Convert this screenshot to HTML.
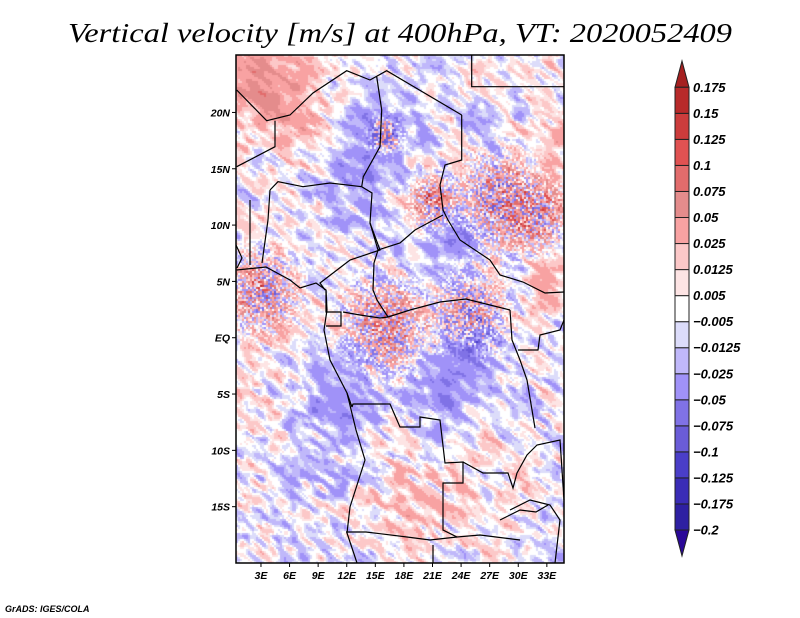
<!DOCTYPE html>
<html><head><meta charset="utf-8">
<style>
html,body{margin:0;padding:0;background:#fff;}
#wrap{position:relative;width:800px;height:618px;overflow:hidden;}
svg text{font-family:"Liberation Sans",sans-serif;font-style:italic;font-weight:bold;}
</style></head>
<body>
<div id="wrap">
<canvas id="field" width="328" height="508" style="position:absolute;left:236px;top:55px;"></canvas>
<svg id="svg" width="800" height="618" style="position:absolute;left:0;top:0;">
<text x="400" y="42" text-anchor="middle" textLength="664" lengthAdjust="spacingAndGlyphs" style="font-family:'Liberation Serif',serif;font-weight:normal;font-size:27px;">Vertical velocity [m/s] at 400hPa, VT: 2020052409</text>
<g id="borders" fill="none" stroke="#000" stroke-width="1.2"></g>
<rect x="236" y="55" width="328" height="508" fill="none" stroke="#000" stroke-width="1.5"/>
<g id="axes"></g>
<g id="cbar"></g>
<text x="5" y="612" style="font-size:9px">GrADS: IGES/COLA</text>
</svg>
</div>
<script>
// ---- data ----
const levels = [-0.2,-0.175,-0.125,-0.1,-0.075,-0.05,-0.025,-0.0125,-0.005,0.005,0.0125,0.025,0.05,0.075,0.1,0.125,0.15,0.175];
const colors = ["#2a0898","#2e20a2","#3a2cb6","#4a3ec8","#6a5cd8","#8072e6","#a092f8","#c0b8fa","#dcdcfa","#ffffff","#fde4e4","#fcc8c8","#f8a2a2","#e48c8c","#e26c6c","#e05252","#cc3c3c","#b82a2a","#a52020"];
const lonTicks = [3,6,9,12,15,18,21,24,27,30,33];
const latTicks = [20,15,10,5,0,-5,-10,-15];
// base anomaly blobs: lon, lat, radius(deg), value
const blobLon = [3,7,14,17,20,23,31,34,25,22,12,6,20,8,33,1,27,17];
const blobLat = [23,19,15,19,13,9,23,17,-1,-5,-5,-2,-12,-12,5,-8,-14,-17];
const blobRad = [5,3,4,3,3,4,4,3,3,4,4,4,6,5,2,4,4,3];
const blobVal = [0.05,0.03,-0.035,-0.03,0.025,-0.035,0.01,0.025,-0.05,-0.03,-0.03,0.005,0.015,-0.004,0.05,0.012,0.01,0.012];
// convective speckle regions: lon, lat, radius
const spkLon = [3,16,25,28,21,16,32];
const spkLat = [4,1,2,12,12,18,11];
const spkRad = [3,3.5,3,3.5,2,1.5,2.5];

// ---- axes mapping ----
const X0=236, X1=564, Y0=55, Y1=563;
const lonMin=0.38, lonMax=34.8, latMax=25.1, latMin=-20.0;
function xOf(lon){return X0+(lon-lonMin)/(lonMax-lonMin)*(X1-X0);}
function yOf(lat){return Y0+(latMax-lat)/(latMax-latMin)*(Y1-Y0);}

function hash(i,j){let h=(i*374761393+j*668265263)|0;h=(h^(h>>>13))*1274126177|0;h=h^(h>>>16);return ((h>>>0)%10000)/10000*2-1;}
function vnoise(x,y){const i=Math.floor(x),j=Math.floor(y),fx=x-i,fy=y-j;
 const sx=fx*fx*(3-2*fx),sy=fy*fy*(3-2*fy);
 const a=hash(i,j),b=hash(i+1,j),c=hash(i,j+1),d=hash(i+1,j+1);
 return a+(b-a)*sx+(c-a)*sy+(a-b-c+d)*sx*sy;}

function field(lon,lat){
 let v=-0.004;
 for(let k=0;k<blobLon.length;k++){const d2=((lon-blobLon[k])**2+(lat-blobLat[k])**2)/(blobRad[k]**2);v+=blobVal[k]*Math.exp(-d2);}
 const u=(lon*0.8-lat*0.5), w=(lon*0.5+lat*0.8);
 v+=0.028*vnoise(u*0.7,w*2.0)+0.014*vnoise(u*1.5,w*3.5+7);
 let s=0;
 for(let k=0;k<spkLon.length;k++){const d2=((lon-spkLon[k])**2+(lat-spkLat[k])**2)/(spkRad[k]**2);s+=Math.exp(-d2);}
 s=Math.min(1,s);
 if(s>0.05){v+=s*(0.035+0.03*vnoise(lon*2,lat*2)+0.1*hash(Math.floor(lon*6),Math.floor(lat*6)));}
 return v;
}
function colorOf(v){let k=0;while(k<levels.length&&v>=levels[k])k++;return colors[k];}

const cv=document.getElementById('field'),ctx=cv.getContext('2d');
const cs=2;
for(let py=0;py<508;py+=cs){for(let px=0;px<328;px+=cs){
 const lon=lonMin+(px+1)/328*(lonMax-lonMin), lat=latMax-(py+1)/508*(latMax-latMin);
 ctx.fillStyle=colorOf(field(lon,lat));ctx.fillRect(px,py,cs,cs);}}

const NS='http://www.w3.org/2000/svg';
function mk(tag,attrs,parent){const e=document.createElementNS(NS,tag);for(const k in attrs)e.setAttribute(k,attrs[k]);parent.appendChild(e);return e;}

const borderLines=[
 "236.7,90 266.7,120.7 290,115 313,93 346.7,70.7 370,80 386.7,70.7 461.7,115",
 "471.7,55 471.7,86.7 564,86.7",
 "461.7,115 461.7,160 445,165 440,185 443,210 448,220 460,240 490,260 500,275 523,282 545,293 564,292",
 "275,120.7 275,146.7 236.7,166.7",
 "376.7,76.7 381.7,110 380,146.7 363.3,176.7 361.7,186.7",
 "270,190 278,181.7 303,186.7 330,183 361.7,186.7",
 "270,190 268,220 262,263",
 "250,200 250,265",
 "236,245 242,258 237,268",
 "361.7,186.7 372,193 370,223 380,250 350,260 337,270 320,283 325,290",
 "370,223 378,250 374,263 373,290 377,300 388,317",
 "378,250 400,243 415,230 443,215",
 "388,317 410,310 440,302 466,299 490,305 510,310",
 "236.7,270 266,267 290,280 300,288 316,283 326,290 327,310 324,330 330,360 347,393 352,407",
 "326,290 326,312 341,312 341,326 326,326",
 "343,312 360,315 380,318 388,317",
 "352,407 353,404 390,404 400,427 420,427 420,417 440,420 445,463 463,462 463,483 443,483 443,530 457,537 480,535 520,540",
 "347,393 356,430 365,460 350,507 347,533 357,563",
 "346,532 366,532 407,537 430,540 457,537",
 "433,545 433,563",
 "463,462 483,473 508,473 513,488 517,473 527,455 537,445 560,440 562,470 564,500",
 "510,310 512,340 520,360 527,380 535,428",
 "518,350 538,350 540,335 560,330 564,320",
 "510,510 530,500 550,505 560,520 555,563",
 "500,520 520,510 536,512 548,505"
];
borderLines.forEach(function(p){
 const e=mk('polyline',{points:p},document.getElementById('borders'));
 
 
});

const ax=document.getElementById('axes');
lonTicks.forEach(function(l){
 const x=xOf(l);
 const t=mk('line',{x1:x,x2:x,y1:Y1,y2:Y1+4,stroke:'#000','stroke-width':1},ax);
 
 const tx=mk('text',{x:x,y:Y1+16,'text-anchor':'middle','font-size':'10.5'},ax);
 tx.textContent=l+'E';
 
});
latTicks.forEach(function(l){
 const y=yOf(l);
 const t=mk('line',{x1:X0-4,x2:X0,y1:y,y2:y,stroke:'#000','stroke-width':1},ax);
 
 const tx=mk('text',{x:X0-6,y:y+4,'text-anchor':'end','font-size':'10.5'},ax);
 tx.textContent=l===0?'EQ':(Math.abs(l)+(l>0?'N':'S'));
 
});

const cb=document.getElementById('cbar');
const cx0=675,cx1=689,cTop=87.3,cBot=530,nb=levels.length-1,bh=(cBot-cTop)/nb;
const tri1=mk('polygon',{points:cx0+','+cTop+' '+cx1+','+cTop+' '+((cx0+cx1)/2)+',61',fill:colors[colors.length-1],stroke:'#222','stroke-width':1},cb);

const tri2=mk('polygon',{points:cx0+','+cBot+' '+cx1+','+cBot+' '+((cx0+cx1)/2)+',556',fill:colors[0],stroke:'#222','stroke-width':1},cb);

for(let k=0;k<nb;k++){
 const y=cBot-(k+1)*bh;
 const r=mk('rect',{x:cx0,y:y,width:cx1-cx0,height:bh,fill:colors[k+1],stroke:'#222','stroke-width':1},cb);
 
}
levels.forEach(function(lv,k){
 const y=cBot-k*bh;
 const tx=mk('text',{x:693,y:y+4.5,'font-size':'13'},cb);
 tx.textContent=lv<0?('\u2212'+String(-lv)):String(lv);
 
});
</script>
</body></html>
